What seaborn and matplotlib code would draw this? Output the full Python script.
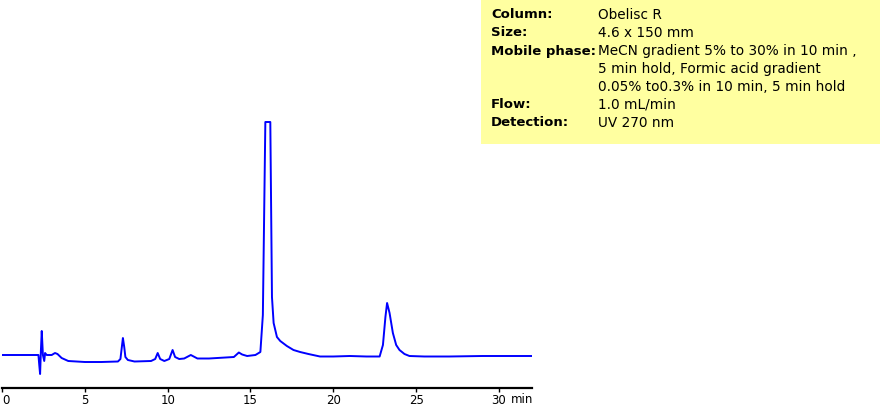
# HPLC chromatogram on Obelisc R column, redrawn with seaborn
import matplotlib
matplotlib.use("Agg")
import matplotlib.pyplot as plt
from matplotlib.patches import Rectangle
import seaborn as sns
import pandas as pd

# retention time (min) and detector signal (arbitrary units)
time_min = [0.0, 1.0, 2.0, 2.2, 2.25, 2.3, 2.35, 2.4, 2.47, 2.55, 2.6, 2.7,
            3.0, 3.2, 3.35, 3.6, 4.0, 5.0, 6.0, 7.0, 7.15, 7.25, 7.3, 7.38,
            7.45, 7.6, 8.0, 9.0, 9.25, 9.4, 9.55, 9.8, 10.1, 10.3, 10.45,
            10.7, 11.0, 11.4, 11.8, 12.5, 13.5, 14.0, 14.3, 14.5, 14.8, 15.3,
            15.6, 15.75, 15.9, 16.2, 16.3, 16.4, 16.6, 16.8, 17.2, 17.6, 18.0,
            18.5, 19.2, 20.0, 21.0, 22.0, 22.8, 23.0, 23.15, 23.25, 23.4, 23.6,
            23.8, 24.0, 24.3, 24.6, 25.5, 27.0, 29.0, 32.0]
signal = [0, 0, 0, 0, -10, -19, 5, 24, 0, -6, 2, 0,
          0, 2, 1, -3, -6, -7, -7, -6.5, -4, 10, 17, 8,
          -2, -5, -6.5, -6, -4, 2, -4, -6, -4, 5, -2,
          -4, -3.5, 0, -3.5, -3.5, -2.5, -2, 2.5, 0.5, -1, 0,
          3, 40, 233, 233, 58, 32, 18, 14, 9, 5, 3,
          1, -1.5, -1.5, -1, -1.5, -1.5, 10, 38, 52, 42, 22,
          10, 5, 1, -1, -1.5, -1.5, -1, -1]

x_ticks = [0, 5, 10, 15, 20, 25, 30]

info_labels = ["Column:", "Size:", "Mobile phase:", "", "", "Flow:", "Detection:"]
info_values = ["Obelisc R", "4.6 x 150 mm",
               "MeCN gradient 5% to 30% in 10 min ,",
               "5 min hold, Formic acid gradient",
               "0.05% to0.3% in 10 min, 5 min hold",
               "1.0 mL/min", "UV 270 nm"]

df = pd.DataFrame({"time": time_min, "signal": signal})

sns.set_style("white")
plt.rcParams["text.color"] = "black"
W, H = 880, 408
fig = plt.figure(figsize=(W / 100, H / 100), dpi=100)
ax = fig.add_axes([2 / W, 20 / H, 530 / W, 388 / H])

sns.lineplot(data=df, x="time", y="signal", color="#0000ff", linewidth=1.4,
             estimator=None, sort=False, ax=ax)

ax.set_xlim(0, 32)
ax.set_ylim(-33, 355)
for s in ["top", "left", "right"]:
    ax.spines[s].set_visible(False)
ax.spines["bottom"].set_color("black")
ax.spines["bottom"].set_linewidth(1.6)
ax.set_xticks(x_ticks)
ax.set_xticklabels([str(t) for t in x_ticks])
ax.tick_params(axis="x", direction="out", length=3, width=1, pad=1,
               labelsize=8.5, colors="black", bottom=True)
# keep the "0" inside the picture
ax.get_xticklabels()[0].set_horizontalalignment("left")
ax.set_yticks([])
ax.set_xlabel("")
ax.set_ylabel("")
ax.text(31.4, -0.012, "min", transform=ax.get_xaxis_transform(),
        ha="center", va="top", fontsize=8.5, color="black")

# condition box
fig.patches.append(Rectangle((481 / W, 1 - 144 / H), (W - 481) / W, 144 / H,
                             transform=fig.transFigure, facecolor="#ffffa0",
                             edgecolor="none", zorder=1))
for i, (lab, val) in enumerate(zip(info_labels, info_values)):
    yc = 1 - (15 + 18 * i) / H
    if lab:
        fig.text(491 / W, yc, lab, fontsize=9.5, fontweight="bold",
                 family="DejaVu Sans", va="center", ha="left", zorder=2,
                 color="black")
    fig.text(598 / W, yc, val, fontsize=9.8, family="DejaVu Sans",
             va="center", ha="left", zorder=2, color="black")

fig.savefig("out.png", dpi=100)
